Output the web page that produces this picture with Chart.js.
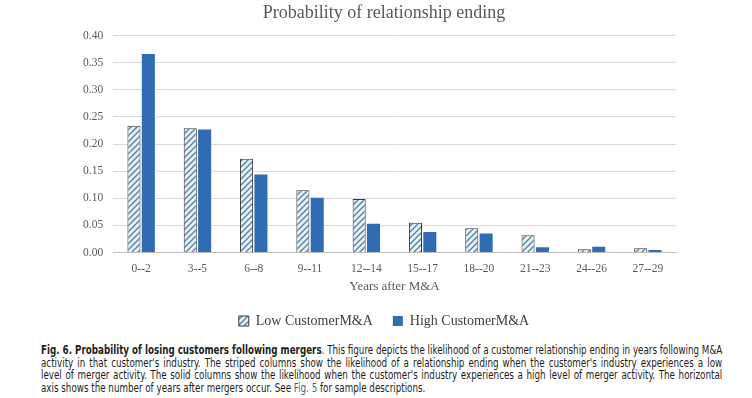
<!DOCTYPE html>
<html>
<head>
<meta charset="utf-8">
<script src="https://cdn.jsdelivr.net/npm/chart.js@4"></script>
<style>
  html, body { margin: 0; padding: 0; background: #fff; }
  #wrap { position: relative; width: 752px; height: 398px; overflow: hidden; }
  #chart-box { position: absolute; left: 0; top: 0; width: 752px; height: 338px; }
  #caption {
    position: absolute; left: 41px; top: 344px; width: 841px;
    transform: scaleX(0.81); transform-origin: 0 0;
    font-family: "DejaVu Sans Condensed", "DejaVu Sans", sans-serif;
    font-size: 12px; line-height: 12.7px; color: #1e1e1e;
  }
  #caption .ln { text-align: justify; text-align-last: justify; white-space: nowrap; }
  #caption .ln.last { text-align-last: left; }
  #caption b { font-weight: bold; }
  #caption .ref { color: #3b5f9a; }
</style>
</head>
<body>
<div id="wrap">
  <div id="chart-box"><canvas id="loss-chart"></canvas></div>
  <div id="caption">
    <div class="ln"><b>Fig. 6. Probability of losing customers following mergers</b>. This figure depicts the likelihood of a customer relationship ending in years following M&amp;A</div>
    <div class="ln">activity in that customer's industry. The striped columns show the likelihood of a relationship ending when the customer's industry experiences a low</div>
    <div class="ln">level of merger activity. The solid columns show the likelihood when the customer's industry experiences a high level of merger activity. The horizontal</div>
    <div class="ln last">axis shows the number of years after mergers occur. See <span class="ref">Fig. 5</span> for sample descriptions.</div>
  </div>
</div>
<script>
// ── data ──
const yearBins = ['0--2', '3--5', '6--8', '9--11', '12--14', '15--17', '18--20', '21--23', '24--26', '27--29'];
const lowMA  = [0.234, 0.229, 0.173, 0.115, 0.099, 0.055, 0.045, 0.032, 0.006, 0.008];
const highMA = [0.366, 0.227, 0.144, 0.101, 0.053, 0.038, 0.035, 0.010, 0.011, 0.005];
const yTicks = [0, 0.05, 0.10, 0.15, 0.20, 0.25, 0.30, 0.35, 0.40];

const SERIF = '"Liberation Serif", "Times New Roman", serif';

// diagonal hatch for the low-M&A columns
function makeHatch() {
  const c = document.createElement('canvas');
  c.width = 6; c.height = 6;
  const g = c.getContext('2d');
  g.fillStyle = '#e2f3f8';
  g.fillRect(0, 0, 6, 6);
  g.strokeStyle = '#5f7f9f';
  g.lineWidth = 1.4;
  g.beginPath();
  g.moveTo(0, 6); g.lineTo(6, 0);
  g.moveTo(-3, 3); g.lineTo(3, -3);
  g.moveTo(3, 9); g.lineTo(9, 3);
  g.stroke();
  return g.createPattern(c, 'repeat');
}

const ctx = document.getElementById('loss-chart').getContext('2d');
new Chart(ctx, {
  type: 'bar',
  data: {
    labels: yearBins,
    datasets: [
      { label: 'Low CustomerM&A', data: lowMA, backgroundColor: makeHatch(), borderColor: '#3a3a3a', borderWidth: 1, categoryPercentage: 0.51, barPercentage: 0.91 },
      { label: 'High CustomerM&A', data: highMA, backgroundColor: '#2f6cb3', borderWidth: 0, categoryPercentage: 0.51, barPercentage: 0.91 }
    ]
  },
  options: {
    responsive: true,
    maintainAspectRatio: false,
    animation: false,
    // left padding keeps title + legend centred where the original has them
    layout: { padding: { left: 92, right: 76, top: 2, bottom: 0 } },
    plugins: {
      title: { display: true, text: 'Probability of relationship ending', color: '#595959', font: { family: SERIF, size: 18, weight: 'normal' }, padding: { top: 0, bottom: 12 } },
      legend: {
        position: 'bottom',
        labels: { color: '#404040', font: { family: SERIF, size: 14 }, boxWidth: 10, boxHeight: 10, padding: 20 }
      },
      tooltip: { enabled: false }
    },
    scales: {
      x: {
        grid: { display: false },
        border: { color: '#bfbfbf' },
        ticks: { color: '#595959', font: { family: SERIF, size: 11.5 }, maxRotation: 0, padding: 1 },
        title: { display: true, text: 'Years after M&A', color: '#595959', font: { family: SERIF, size: 13 }, padding: { top: 2, bottom: 0 } }
      },
      y: {
        min: 0, max: 0.4,
        afterFit: s => { s.width = 21; },
        afterBuildTicks: s => { s.ticks = yTicks.map(v => ({ value: v })); },
        grid: { color: '#d9d9d9', drawTicks: false },
        border: { display: false },
        // mirrored so the labels are not clipped to the narrow axis box
        ticks: { mirror: true, crossAlign: 'far', color: '#595959', font: { family: SERIF, size: 11.5 }, padding: -30, callback: v => v.toFixed(2) }
      }
    }
  }
});
</script>
</body>
</html>
